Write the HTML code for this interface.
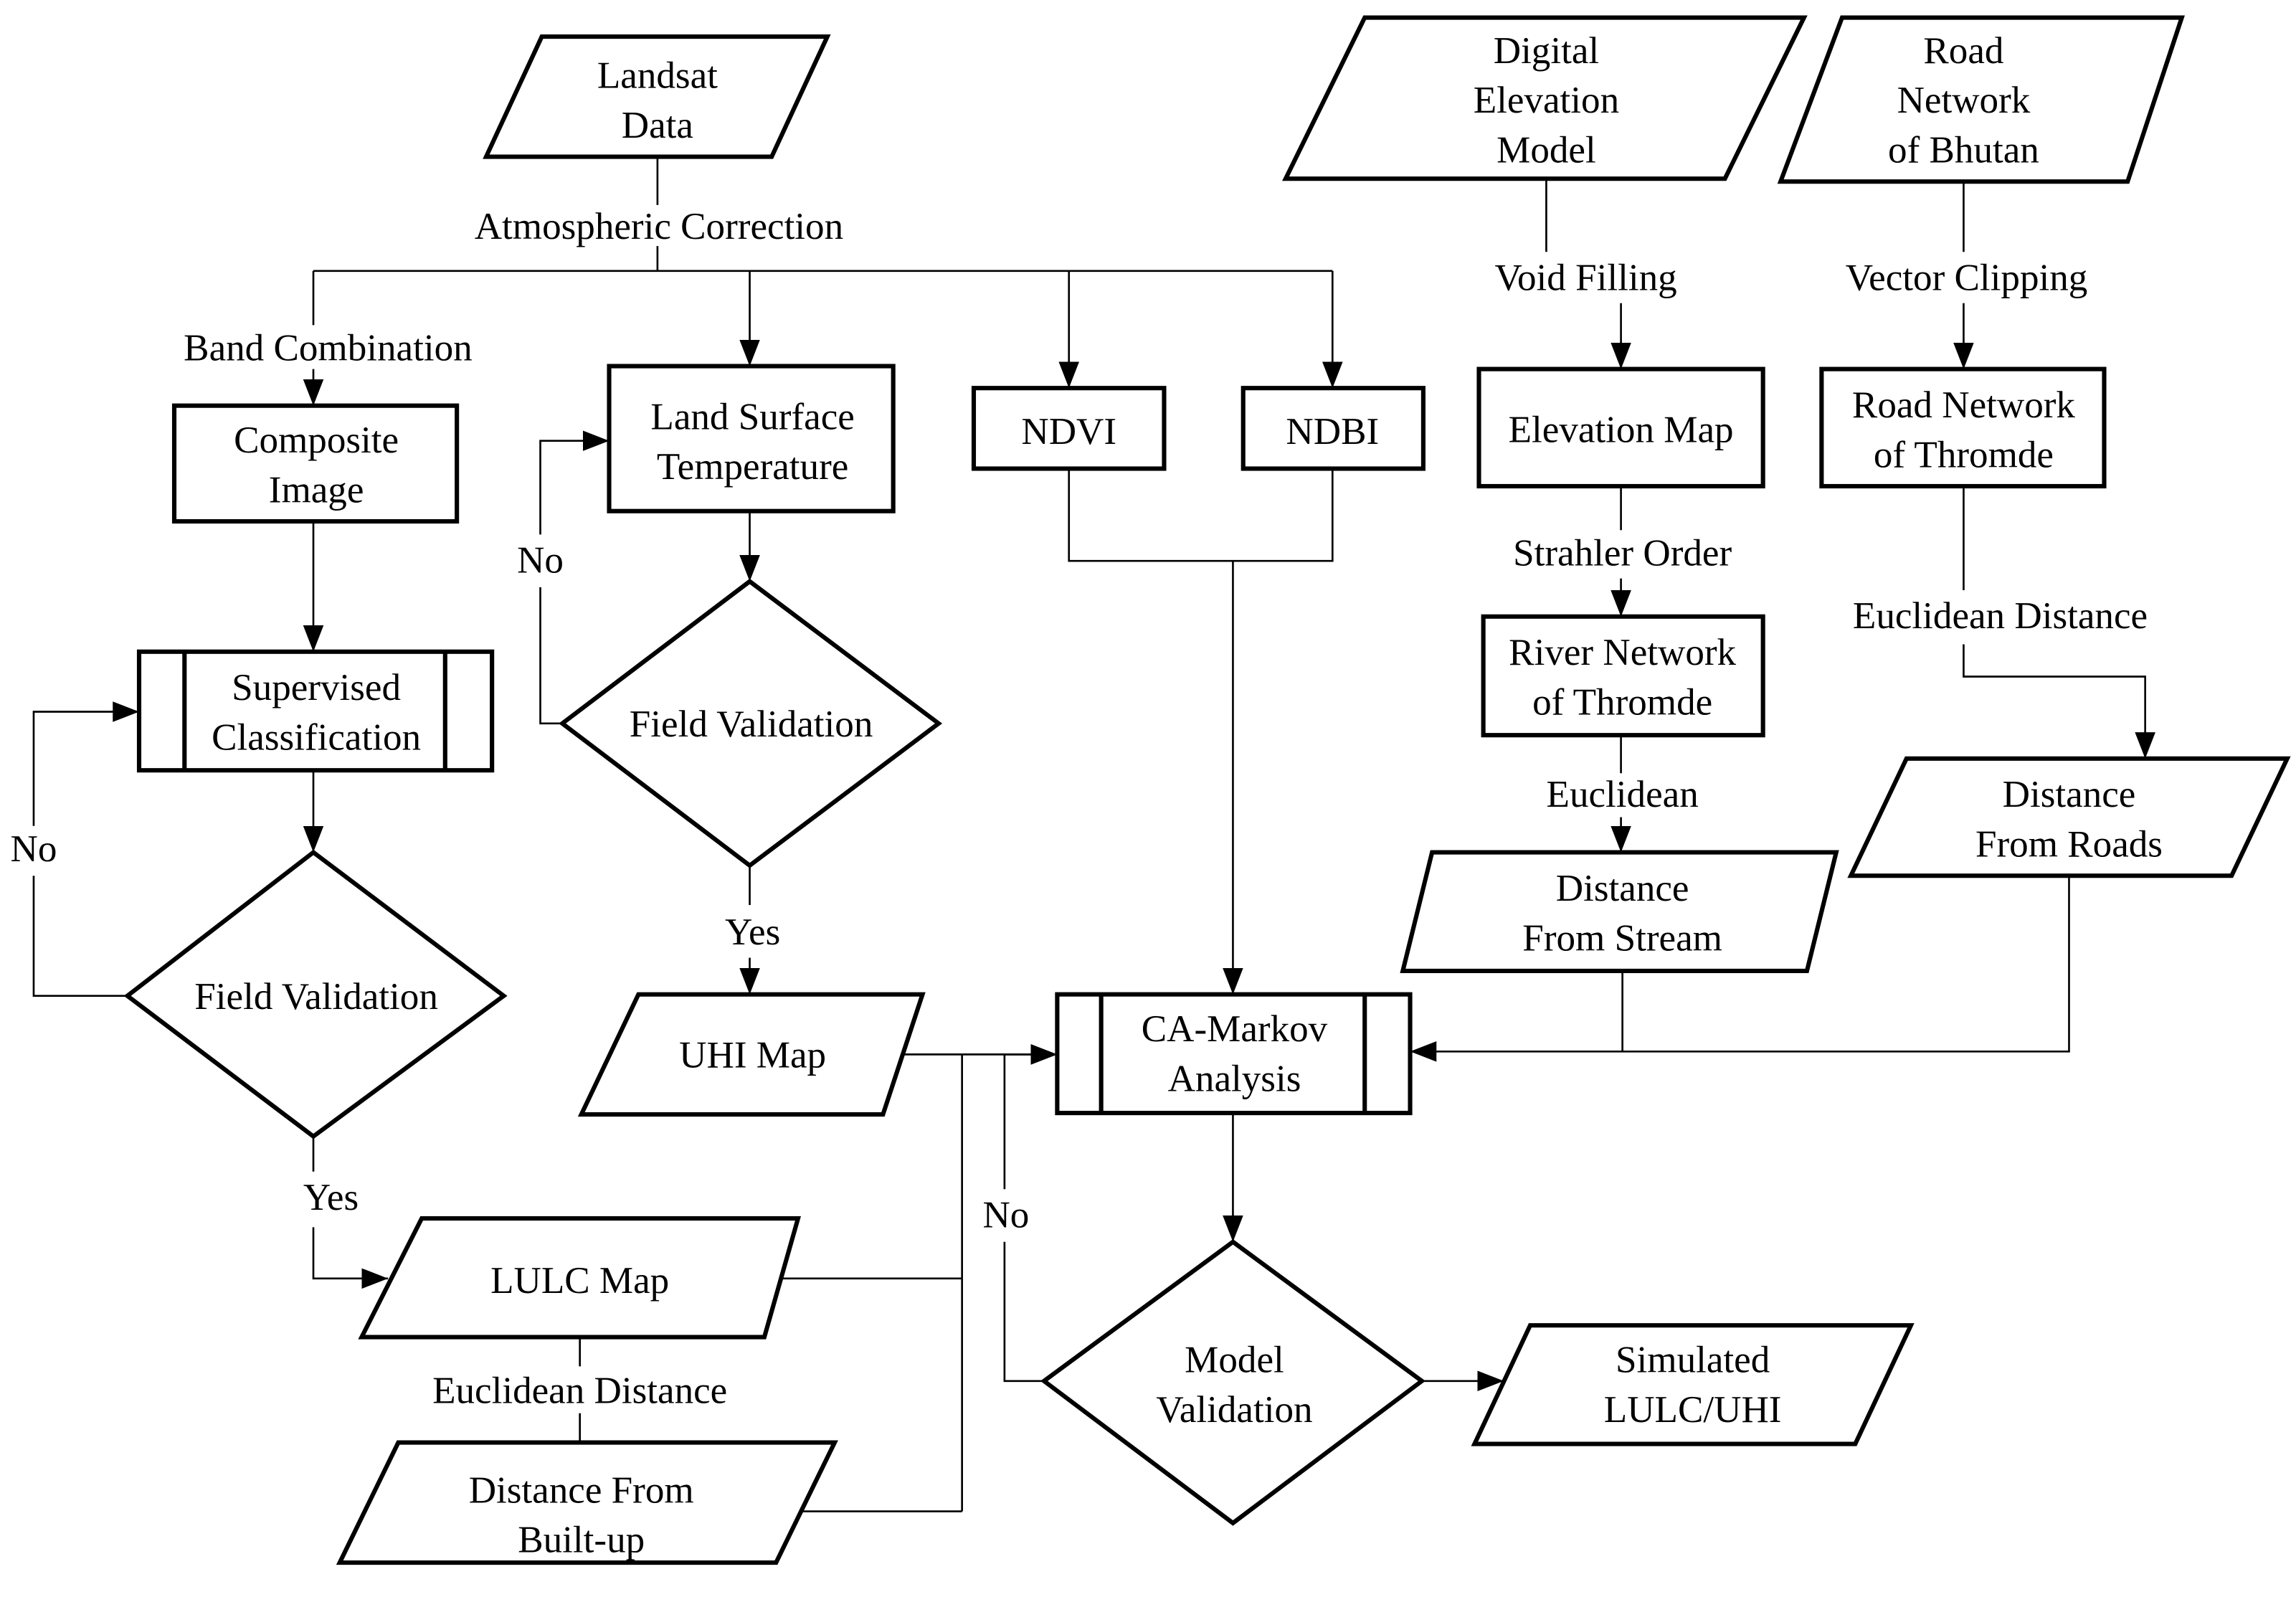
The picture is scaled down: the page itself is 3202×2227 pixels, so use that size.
<!DOCTYPE html>
<html><head><meta charset="utf-8"><style>
html,body{margin:0;padding:0;background:#fff;}
svg{display:block;font-family:"Liberation Serif","DejaVu Serif",serif;}
text{font-family:"Liberation Serif","DejaVu Serif",serif;font-size:26px;fill:#000;text-anchor:middle;}
.s{fill:#fff;stroke:#000;stroke-width:3;stroke-linejoin:miter;}
.c{fill:none;stroke:#000;stroke-width:1.3;}
</style></head><body>
<svg width="3202" height="2227" viewBox="0 0 1568 1090.5" preserveAspectRatio="none" xmlns="http://www.w3.org/2000/svg" font-family="Liberation Serif, DejaVu Serif, serif">
<defs><marker id="a" markerWidth="20" markerHeight="20" refX="18" refY="7" orient="auto" markerUnits="userSpaceOnUse"><path d="M0,0 L18,7 L0,14 z" fill="#000"/></marker></defs>

<path class="c" d="M449,107 V140"/>
<path class="c" d="M449,168 V185 M214,185 H910"/>
<path class="c" d="M214,185 V222"/>
<path class="c" d="M214,252 V277" marker-end="url(#a)"/>
<path class="c" d="M512,185 V250" marker-end="url(#a)"/>
<path class="c" d="M730,185 V265" marker-end="url(#a)"/>
<path class="c" d="M910,185 V265" marker-end="url(#a)"/>
<path class="c" d="M214,356 V445" marker-end="url(#a)"/>
<path class="c" d="M214,526 V582" marker-end="url(#a)"/>
<path class="c" d="M87,680 H23 V598"/>
<path class="c" d="M23,564 V486 H95" marker-end="url(#a)"/>
<path class="c" d="M214,776 V800"/>
<path class="c" d="M214,838 V873 H265" marker-end="url(#a)"/>
<path class="c" d="M396,913 V933"/>
<path class="c" d="M396,965 V985"/>
<path class="c" d="M512,349 V397" marker-end="url(#a)"/>
<path class="c" d="M384,494 H369 V401"/>
<path class="c" d="M369,365 V301 H416" marker-end="url(#a)"/>
<path class="c" d="M512,591 V618"/>
<path class="c" d="M512,654 V679" marker-end="url(#a)"/>
<path class="c" d="M730,320 V383 H910 V320 M842,383 V679" marker-end="url(#a)"/>
<path class="c" d="M603,720 H657 M522,873 H657 M530,1032 H657 M657,720 V1032"/>
<path class="c" d="M657,720 H722" marker-end="url(#a)"/>
<path class="c" d="M713,943 H686 V848"/>
<path class="c" d="M686,812 V720 H722" marker-end="url(#a)"/>
<path class="c" d="M842,760 V848" marker-end="url(#a)"/>
<path class="c" d="M971,943 H1027" marker-end="url(#a)"/>
<path class="c" d="M1056,122 V172"/>
<path class="c" d="M1107,207 V252" marker-end="url(#a)"/>
<path class="c" d="M1107,332 V362"/>
<path class="c" d="M1107,395 V421" marker-end="url(#a)"/>
<path class="c" d="M1107,502 V528"/>
<path class="c" d="M1107,558 V582" marker-end="url(#a)"/>
<path class="c" d="M1341,124 V172"/>
<path class="c" d="M1341,207 V252" marker-end="url(#a)"/>
<path class="c" d="M1341,332 V403"/>
<path class="c" d="M1341,440 V462 H1465 V518" marker-end="url(#a)"/>
<path class="c" d="M1108,663 V718 M1413,598 V718 H963" marker-end="url(#a)"/>

<polygon class="s" points="370,25 565,25 527,107 332,107"/>
<rect class="s" x="119" y="277" width="193" height="79"/>
<rect class="s" x="95" y="445" width="241" height="81"/>
<path class="s" d="M126,445 V526 M304,445 V526"/>
<polygon class="s" points="214,582 344,680 214,776 87,680"/>
<polygon class="s" points="288,832 545,832 522,913 247,913"/>
<polygon class="s" points="272,985 570,985 530,1067 232,1067"/>
<rect class="s" x="416" y="250" width="194" height="99"/>
<polygon class="s" points="512,397 641,494 512,591 384,494"/>
<polygon class="s" points="436,679 630,679 603,761 397,761"/>
<rect class="s" x="665" y="265" width="130" height="55"/>
<rect class="s" x="849" y="265" width="123" height="55"/>
<rect class="s" x="722" y="679" width="241" height="81"/>
<path class="s" d="M752,679 V760 M932,679 V760"/>
<polygon class="s" points="842,848 971,943 842,1040 713,943"/>
<polygon class="s" points="1045,905 1305,905 1267,986 1007,986"/>
<polygon class="s" points="932,12 1232,12 1178,122 878,122"/>
<rect class="s" x="1010" y="252" width="194" height="80"/>
<rect class="s" x="1013" y="421" width="191" height="81"/>
<polygon class="s" points="978,582 1254,582 1234,663 958,663"/>
<polygon class="s" points="1258,12 1490,12 1453,124 1216,124"/>
<rect class="s" x="1244" y="252" width="193" height="80"/>
<polygon class="s" points="1302,518 1562,518 1524,598 1264,598"/>

<text x="449" y="60">Landsat</text><text x="449" y="94">Data</text>
<text x="450" y="163">Atmospheric Correction</text>
<text x="224" y="246">Band Combination</text>
<text x="216" y="309">Composite</text><text x="216" y="343">Image</text>
<text x="216" y="478">Supervised</text><text x="216" y="512">Classification</text>
<text x="23" y="588">No</text>
<text x="216" y="689">Field Validation</text>
<text x="226" y="826">Yes</text>
<text x="396" y="883">LULC Map</text>
<text x="396" y="958">Euclidean Distance</text>
<text x="397" y="1026">Distance From</text><text x="397" y="1060">Built-up</text>
<text x="514" y="293">Land Surface</text><text x="514" y="327">Temperature</text>
<text x="369" y="391">No</text>
<text x="513" y="503">Field Validation</text>
<text x="514" y="645">Yes</text>
<text x="514" y="729">UHI Map</text>
<text x="730" y="303">NDVI</text>
<text x="910" y="303">NDBI</text>
<text x="843" y="711">CA-Markov</text><text x="843" y="745">Analysis</text>
<text x="687" y="838">No</text>
<text x="843" y="937">Model</text><text x="843" y="971">Validation</text>
<text x="1156" y="937">Simulated</text><text x="1156" y="971">LULC/UHI</text>
<text x="1056" y="43">Digital</text><text x="1056" y="77">Elevation</text><text x="1056" y="111">Model</text>
<text x="1083" y="198">Void Filling</text>
<text x="1107" y="302">Elevation Map</text>
<text x="1108" y="386">Strahler Order</text>
<text x="1108" y="454">River Network</text><text x="1108" y="488">of Thromde</text>
<text x="1108" y="551">Euclidean</text>
<text x="1108" y="615">Distance</text><text x="1108" y="649">From Stream</text>
<text x="1341" y="43">Road</text><text x="1341" y="77">Network</text><text x="1341" y="111">of Bhutan</text>
<text x="1343" y="198">Vector Clipping</text>
<text x="1341" y="285">Road Network</text><text x="1341" y="319">of Thromde</text>
<text x="1366" y="429">Euclidean Distance</text>
<text x="1413" y="551">Distance</text><text x="1413" y="585">From Roads</text>
</svg>
</body></html>
